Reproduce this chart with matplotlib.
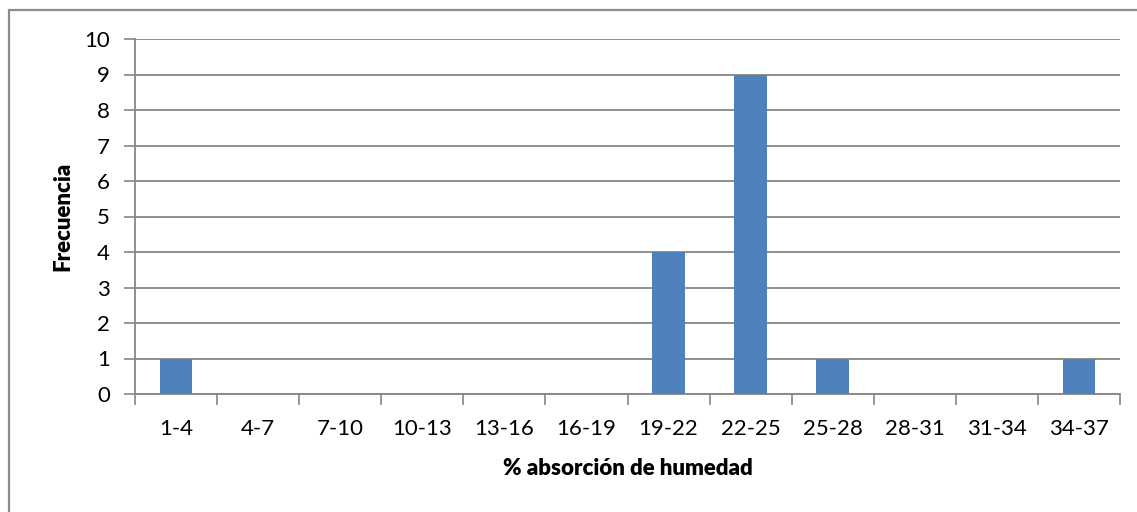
import matplotlib.pyplot as plt
from matplotlib.patches import Rectangle
import numpy as np

# data
categories = ['1-4', '4-7', '7-10', '10-13', '13-16', '16-19',
              '19-22', '22-25', '25-28', '28-31', '31-34', '34-37']
frecuencia = [1, 0, 0, 0, 0, 0, 4, 9, 1, 0, 0, 1]

plt.rcParams['font.family'] = ['Lato', 'DejaVu Sans']

fig = plt.figure(figsize=(11.37, 5.12), dpi=100)
ax = fig.add_axes([135 / 1137, 1 - 394 / 512, (1120 - 135) / 1137, (394 - 39) / 512])

# outer chart border (only top/left visible)
fig.patches.append(Rectangle((9 / 1137, -0.1), 1.1, 1 - 9.5 / 512 + 0.1,
                             transform=fig.transFigure, fill=False,
                             edgecolor='#8c8c8c', linewidth=1.6, zorder=0))

x = np.arange(len(categories))
ax.bar(x, frecuencia, width=0.4, color='#4f81bd', zorder=3)

ax.set_xlim(-0.5, len(categories) - 0.5)
ax.set_ylim(0, 10)
ax.set_yticks(range(0, 11))
ax.set_xticks(x)
ax.set_xticklabels(categories)
ax.set_xticks(np.arange(-0.5, len(categories)), minor=True)
ax.tick_params(axis='x', which='major', length=0, pad=18, labelsize=16)
ax.tick_params(axis='x', which='minor', length=8, width=1.2, color='#868686', direction='out')
ax.tick_params(axis='y', length=8, width=1.2, color='#868686', pad=10, labelsize=16)

ax.grid(axis='y', color='#868686', linewidth=1.3, zorder=0)
for s in ['top', 'right']:
    ax.spines[s].set_visible(False)
for s in ['left', 'bottom']:
    ax.spines[s].set_color('#868686')
    ax.spines[s].set_linewidth(1.3)

ax.set_xlabel('% absorción de humedad', fontsize=16, fontweight='heavy', labelpad=14)
ax.set_ylabel('Frecuencia', fontsize=16, fontweight='heavy', labelpad=8)

fig.savefig('out.png', dpi=100)
